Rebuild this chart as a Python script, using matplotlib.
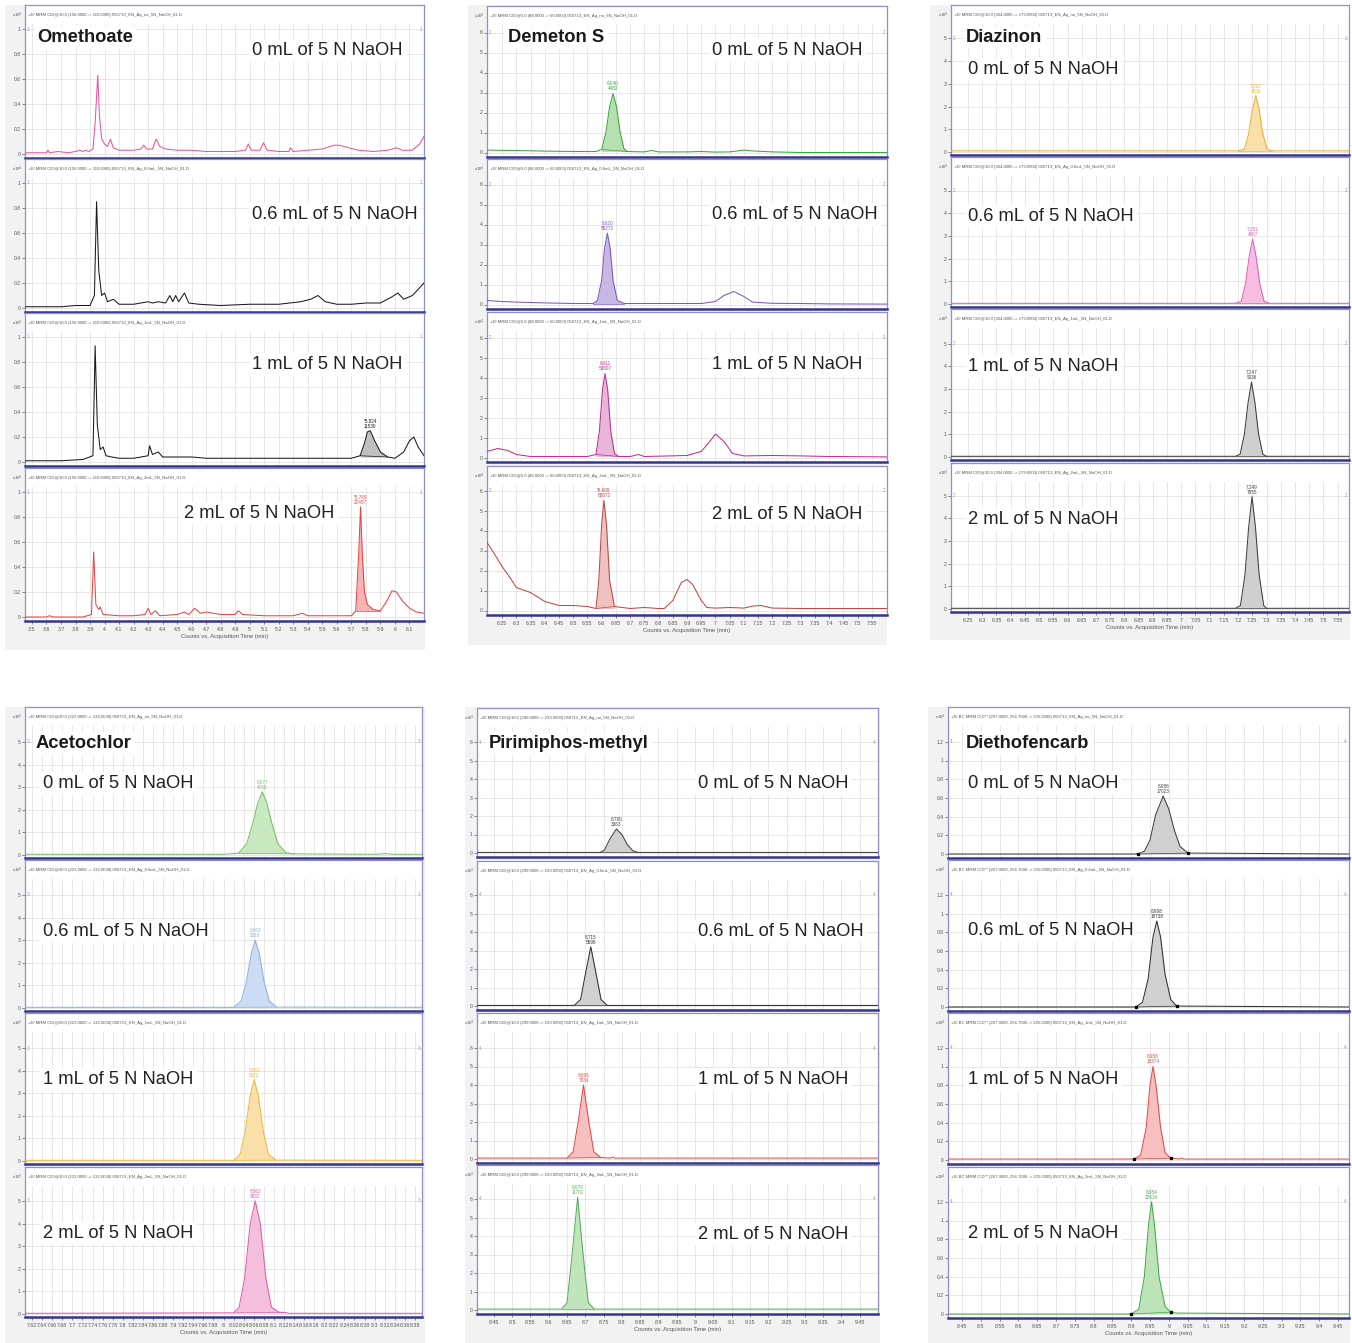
import numpy as np
import matplotlib
matplotlib.use("Agg")
import matplotlib.pyplot as plt
from matplotlib.patches import Rectangle

# ======================= DATA =======================
compounds = ["Omethoate", "Demeton S", "Diazinon", "Acetochlor", "Pirimiphos-methyl", "Diethofencarb"]
naoh_levels = ["0 mL of 5 N NaOH", "0.6 mL of 5 N NaOH", "1 mL of 5 N NaOH", "2 mL of 5 N NaOH"]
file_tags = ["no", "0.6mL", "1mL", "2mL"]
transitions = ["+EI MRM CID@10.0 (156.0000 -> 110.0000)",
               "+EI MRM CID@5.0 (88.0000 -> 60.0000)",
               "+EI MRM CID@10.0 (304.0000 -> 179.0000)",
               "+EI MRM CID@20.0 (223.0000 -> 132.0000)",
               "+EI MRM CID@10.0 (290.0000 -> 233.0000)",
               "+EI BC MRM CID** (267.0000, 256.7000 -> 225.0000)"]
scale_exp = ["4", "4", "3", "3", "3", "4"]
segment_ids = ["1", "2", "2", "3", "4", "4"]

# ---- x tick labels (min) ----
ome_xticks = ["3.5", "3.6", "3.7", "3.8", "3.9", "4", "4.1", "4.2", "4.3", "4.4", "4.5", "4.6", "4.7",
              "4.8", "4.9", "5", "5.1", "5.2", "5.3", "5.4", "5.5", "5.6", "5.7", "5.8", "5.9", "6", "6.1"]
dem_xticks = ["6.25", "6.3", "6.35", "6.4", "6.45", "6.5", "6.55", "6.6", "6.65", "6.7", "6.75", "6.8",
              "6.85", "6.9", "6.95", "7", "7.05", "7.1", "7.15", "7.2", "7.25", "7.3", "7.35", "7.4",
              "7.45", "7.5", "7.55"]
dia_xticks = dem_xticks
ace_xticks = ["7.62", "7.64", "7.66", "7.68", "7.7", "7.72", "7.74", "7.76", "7.78", "7.8", "7.82", "7.84",
              "7.86", "7.88", "7.9", "7.92", "7.94", "7.96", "7.98", "8", "8.02", "8.04", "8.06", "8.08",
              "8.1", "8.12", "8.14", "8.16", "8.18", "8.2", "8.22", "8.24", "8.26", "8.28", "8.3", "8.32",
              "8.34", "8.36", "8.38"]
pir_xticks = ["8.45", "8.5", "8.55", "8.6", "8.65", "8.7", "8.75", "8.8", "8.85", "8.9", "8.95", "9",
              "9.05", "9.1", "9.15", "9.2", "9.25", "9.3", "9.35", "9.4", "9.45"]
dfc_xticks = pir_xticks

# ---- y tick labels ----
ome_yticks = ["0", "0.2", "0.4", "0.6", "0.8", "1"]
dem_yticks = ["0", "1", "2", "3", "4", "5", "6"]
dia_yticks = ["0", "1", "2", "3", "4", "5"]
ace_yticks = ["0", "1", "2", "3", "4", "5"]
pir_yticks = ["0", "1", "2", "3", "4", "5", "6"]
dfc_yticks = ["0", "0.2", "0.4", "0.6", "0.8", "1", "1.2"]

# ---- Omethoate (x10^4 counts) ----
ome_t0 = [3.45, 3.55, 3.60, 3.61, 3.62, 3.68, 3.75, 3.80, 3.83, 3.85, 3.87, 3.89, 3.92, 3.935, 3.953, 3.965,
          3.98, 4.00, 4.02, 4.04, 4.06, 4.10, 4.20, 4.25, 4.27, 4.29, 4.33, 4.355, 4.38, 4.42, 4.50, 4.60,
          4.70, 4.80, 4.90, 4.97, 4.99, 5.01, 5.07, 5.095, 5.12, 5.20, 5.27, 5.28, 5.30, 5.40, 5.50, 5.58,
          5.62, 5.68, 5.75, 5.85, 5.95, 6.01, 6.05, 6.12, 6.17, 6.20]
ome_y0 = [0.01, 0.01, 0.01, 0.03, 0.01, 0.02, 0.01, 0.02, 0.03, 0.02, 0.03, 0.02, 0.04, 0.25, 0.63, 0.30,
          0.12, 0.08, 0.06, 0.12, 0.05, 0.03, 0.03, 0.04, 0.07, 0.04, 0.04, 0.12, 0.06, 0.04, 0.03, 0.03,
          0.02, 0.02, 0.02, 0.03, 0.08, 0.03, 0.03, 0.09, 0.03, 0.02, 0.02, 0.05, 0.02, 0.03, 0.04, 0.07,
          0.07, 0.05, 0.03, 0.02, 0.03, 0.05, 0.03, 0.03, 0.08, 0.14]
ome_t1 = [3.45, 3.60, 3.70, 3.80, 3.90, 3.93, 3.945, 3.96, 3.98, 4.00, 4.02, 4.06, 4.10, 4.20, 4.30, 4.33,
          4.37, 4.42, 4.45, 4.47, 4.49, 4.51, 4.55, 4.58, 4.65, 4.80, 5.00, 5.20, 5.35, 5.42, 5.47, 5.52,
          5.60, 5.70, 5.80, 5.90, 5.98, 6.02, 6.06, 6.12, 6.20]
ome_y1 = [0.01, 0.01, 0.01, 0.02, 0.02, 0.10, 0.85, 0.30, 0.10, 0.12, 0.05, 0.07, 0.03, 0.03, 0.05, 0.04,
          0.05, 0.04, 0.10, 0.05, 0.10, 0.05, 0.12, 0.04, 0.03, 0.02, 0.03, 0.03, 0.05, 0.07, 0.10, 0.05,
          0.03, 0.03, 0.04, 0.04, 0.09, 0.12, 0.07, 0.10, 0.20]
ome_t2 = [3.45, 3.70, 3.85, 3.92, 3.935, 3.95, 3.97, 3.99, 4.01, 4.05, 4.10, 4.20, 4.30, 4.31, 4.33, 4.37,
          4.40, 4.50, 4.60, 4.70, 4.90, 5.10, 5.30, 5.50, 5.70, 5.76, 5.79, 5.81, 5.83, 5.86, 5.90, 5.95,
          6.00, 6.06, 6.10, 6.13, 6.16, 6.20]
ome_y2 = [0.01, 0.01, 0.02, 0.05, 0.93, 0.30, 0.10, 0.12, 0.05, 0.04, 0.03, 0.03, 0.05, 0.13, 0.06, 0.08,
          0.04, 0.04, 0.04, 0.03, 0.03, 0.03, 0.03, 0.03, 0.03, 0.05, 0.15, 0.24, 0.25, 0.17, 0.08, 0.04,
          0.03, 0.08, 0.17, 0.20, 0.12, 0.05]
ome_t3 = [3.45, 3.60, 3.62, 3.65, 3.85, 3.91, 3.925, 3.94, 3.96, 3.97, 3.99, 4.10, 4.20, 4.28, 4.30, 4.32,
          4.35, 4.38, 4.50, 4.55, 4.58, 4.62, 4.66, 4.70, 4.80, 4.90, 4.92, 4.95, 5.10, 5.30, 5.36, 5.40,
          5.50, 5.60, 5.70, 5.73, 5.75, 5.763, 5.775, 5.79, 5.81, 5.85, 5.90, 5.94, 5.98, 6.01, 6.05, 6.10,
          6.15, 6.20]
ome_y3 = [0.00, 0.00, 0.01, 0.00, 0.00, 0.02, 0.52, 0.10, 0.06, 0.08, 0.02, 0.01, 0.01, 0.02, 0.07, 0.02,
          0.05, 0.01, 0.02, 0.04, 0.02, 0.07, 0.03, 0.04, 0.02, 0.02, 0.05, 0.02, 0.01, 0.01, 0.03, 0.01,
          0.01, 0.01, 0.01, 0.05, 0.50, 0.88, 0.50, 0.20, 0.10, 0.06, 0.05, 0.12, 0.21, 0.20, 0.13, 0.07,
          0.04, 0.03]
ome_fill = [None, None, (5.76, 5.95), (5.73, 5.90)]
ome_peaks = [None, None, ("*5.824", "11530"), ("*5.769", "22457")]

# ---- Demeton S (x10^4 counts) ----
dem_t0 = [6.197, 6.30, 6.40, 6.50, 6.58, 6.60, 6.615, 6.628, 6.640, 6.652, 6.665, 6.678, 6.69, 6.75,
          6.775, 6.80, 6.90, 6.95, 7.00, 7.05, 7.10, 7.13, 7.20, 7.30, 7.603]
dem_y0 = [0.12, 0.10, 0.07, 0.05, 0.05, 0.15, 1.0, 2.3, 2.95, 2.3, 1.0, 0.2, 0.05, 0.03,
          0.10, 0.03, 0.03, 0.05, 0.02, 0.03, 0.12, 0.08, 0.03, 0.00, 0.00]
dem_t1 = [6.197, 6.25, 6.30, 6.40, 6.50, 6.57, 6.585, 6.600, 6.610, 6.620, 6.630, 6.640, 6.655, 6.68,
          6.80, 6.95, 7.00, 7.03, 7.065, 7.10, 7.13, 7.20, 7.30, 7.40, 7.603]
dem_y1 = [0.20, 0.15, 0.12, 0.08, 0.05, 0.05, 0.20, 1.2, 2.8, 3.57, 2.8, 1.2, 0.20, 0.05,
          0.05, 0.05, 0.15, 0.45, 0.65, 0.40, 0.12, 0.06, 0.05, 0.03, 0.02]
dem_t2 = [6.197, 6.235, 6.27, 6.30, 6.35, 6.45, 6.55, 6.58, 6.592, 6.603, 6.612, 6.621, 6.632, 6.645,
          6.66, 6.70, 6.73, 6.75, 6.90, 6.95, 6.98, 7.00, 7.03, 7.06, 7.10, 7.20, 7.30, 7.40, 7.603]
dem_y2 = [0.30, 0.45, 0.35, 0.15, 0.05, 0.05, 0.05, 0.15, 1.3, 3.4, 4.2, 3.4, 1.3, 0.2,
          0.05, 0.05, 0.15, 0.05, 0.10, 0.30, 0.80, 1.17, 0.80, 0.20, 0.08, 0.10, 0.08, 0.05, 0.03]
dem_t3 = [6.197, 6.22, 6.25, 6.28, 6.30, 6.35, 6.40, 6.45, 6.50, 6.55, 6.58, 6.590, 6.600, 6.608,
          6.617, 6.628, 6.645, 6.70, 6.75, 6.80, 6.82, 6.85, 6.88, 6.90, 6.92, 6.95, 6.97, 7.00, 7.05,
          7.10, 7.13, 7.16, 7.20, 7.30, 7.603]
dem_y3 = [3.40, 2.90, 2.20, 1.60, 1.15, 0.90, 0.45, 0.25, 0.25, 0.20, 0.10, 1.5, 4.3, 5.5,
          4.3, 1.5, 0.20, 0.10, 0.15, 0.10, 0.10, 0.50, 1.40, 1.55, 1.30, 0.50, 0.15, 0.12, 0.15,
          0.12, 0.22, 0.25, 0.12, 0.10, 0.10]
dem_fill = [(6.60, 6.69), (6.57, 6.68), (6.58, 6.66), (6.58, 6.645)]
dem_peaks = [("6.640", "4482"), ("6.620", "55272"), ("6.611", "53807"), ("*6.609", "85872")]

# ---- Diazinon (x10^3 counts) ----
dia_t0 = [6.19, 7.20, 7.222, 7.237, 7.250, 7.262, 7.274, 7.287, 7.302, 7.32, 7.59]
dia_y0 = [0.05, 0.05, 0.12, 0.80, 1.85, 2.48, 1.85, 0.80, 0.12, 0.05, 0.05]
dia_t1 = [6.19, 7.19, 7.211, 7.226, 7.239, 7.251, 7.263, 7.276, 7.291, 7.31, 7.59]
dia_y1 = [0.03, 0.03, 0.12, 0.90, 2.10, 2.86, 2.10, 0.90, 0.12, 0.03, 0.03]
dia_t2 = [6.19, 7.19, 7.207, 7.222, 7.235, 7.247, 7.259, 7.272, 7.287, 7.30, 7.59]
dia_y2 = [0.03, 0.03, 0.12, 1.00, 2.40, 3.30, 2.40, 1.00, 0.12, 0.03, 0.03]
dia_t3 = [6.19, 7.19, 7.208, 7.224, 7.237, 7.249, 7.261, 7.274, 7.290, 7.30, 7.59]
dia_y3 = [0.03, 0.03, 0.15, 1.50, 3.60, 4.95, 3.60, 1.50, 0.15, 0.03, 0.03]
dia_fill = [(7.20, 7.32), (7.19, 7.31), (7.19, 7.30), (7.19, 7.30)]
dia_peaks = [("7.262", "3930"), ("7.251", "4907"), ("7.247", "5036"), ("7.249", "7955")]

# ---- Acetochlor (x10^3 counts) ----
ace_t0 = [7.606, 8.00, 8.030, 8.046, 8.058, 8.068, 8.077, 8.086, 8.096, 8.108, 8.124, 8.14, 8.30, 8.32,
          8.34, 8.394]
ace_y0 = [0.03, 0.03, 0.08, 0.50, 1.40, 2.30, 2.80, 2.30, 1.40, 0.50, 0.10, 0.05, 0.03, 0.06,
          0.03, 0.03]
ace_t1 = [7.606, 8.02, 8.035, 8.045, 8.055, 8.063, 8.071, 8.081, 8.091, 8.105, 8.394]
ace_y1 = [0.03, 0.03, 0.30, 1.10, 2.40, 3.00, 2.40, 1.10, 0.30, 0.04, 0.03]
ace_t2 = [7.606, 8.02, 8.033, 8.043, 8.053, 8.061, 8.069, 8.079, 8.089, 8.104, 8.394]
ace_y2 = [0.03, 0.03, 0.30, 1.30, 2.90, 3.60, 2.90, 1.30, 0.30, 0.04, 0.03]
ace_t3 = [7.606, 8.02, 8.031, 8.042, 8.053, 8.063, 8.073, 8.084, 8.095, 8.11, 8.122, 8.13, 8.394]
ace_y3 = [0.03, 0.05, 0.30, 1.60, 4.00, 5.00, 4.00, 1.60, 0.30, 0.08, 0.07, 0.03, 0.03]
ace_fill = [(8.030, 8.14), (8.02, 8.105), (8.02, 8.104), (8.02, 8.122)]
ace_peaks = [("8.077", "4768"), ("8.063", "5310"), ("8.061", "6322"), ("8.063", "9832")]

# ---- Pirimiphos-methyl (x10^3 counts) ----
pir_t0 = [8.404, 8.74, 8.752, 8.767, 8.785, 8.800, 8.815, 8.830, 8.845, 9.50]
pir_y0 = [0.03, 0.03, 0.15, 0.75, 1.30, 1.00, 0.45, 0.12, 0.03, 0.03]
pir_t1 = [8.404, 8.67, 8.687, 8.702, 8.715, 8.728, 8.743, 8.76, 9.50]
pir_y1 = [0.03, 0.03, 0.35, 1.90, 3.20, 1.90, 0.35, 0.03, 0.03]
pir_t2 = [8.404, 8.65, 8.667, 8.682, 8.695, 8.708, 8.723, 8.742, 8.77, 8.775, 8.78, 9.50]
pir_y2 = [0.05, 0.05, 0.40, 2.20, 4.00, 2.20, 0.40, 0.08, 0.05, 0.10, 0.05, 0.05]
pir_t3 = [8.404, 8.635, 8.650, 8.664, 8.679, 8.694, 8.708, 8.725, 9.50]
pir_y3 = [0.05, 0.05, 0.40, 3.00, 6.10, 3.00, 0.40, 0.05, 0.05]
pir_fill = [(8.74, 8.845), (8.67, 8.76), (8.65, 8.742), (8.635, 8.725)]
pir_peaks = [("8.780", "3363"), ("8.715", "5598"), ("8.695", "7034"), ("8.679", "11701")]

# ---- Diethofencarb (x10^4 counts) ----
dfc_t0 = [8.413, 8.918, 8.935, 8.950, 8.965, 8.985, 9.000, 9.015, 9.030, 9.051, 9.479]
dfc_y0 = [0.00, 0.00, 0.03, 0.15, 0.42, 0.62, 0.48, 0.25, 0.08, 0.01, 0.00]
dfc_t1 = [8.413, 8.912, 8.930, 8.945, 8.958, 8.968, 8.978, 8.990, 9.005, 9.021, 9.479]
dfc_y1 = [0.00, 0.00, 0.05, 0.30, 0.75, 0.92, 0.75, 0.35, 0.08, 0.01, 0.00]
dfc_t2 = [8.413, 8.907, 8.925, 8.940, 8.950, 8.958, 8.966, 8.978, 8.990, 9.005, 9.030, 9.035, 9.040, 9.479]
dfc_y2 = [0.01, 0.01, 0.05, 0.35, 0.80, 1.00, 0.80, 0.35, 0.08, 0.02, 0.01, 0.02, 0.01, 0.01]
dfc_t3 = [8.413, 8.900, 8.920, 8.935, 8.946, 8.954, 8.962, 8.974, 8.990, 9.005, 9.020, 9.479]
dfc_y3 = [0.00, 0.00, 0.05, 0.40, 0.95, 1.20, 0.95, 0.40, 0.08, 0.02, 0.01, 0.00]
dfc_fill = [(8.918, 9.051), (8.912, 9.021), (8.907, 9.005), (8.900, 9.005)]
dfc_peaks = [("8.986", "17023"), ("8.968", "18738"), ("8.958", "18374"), ("8.954", "22614")]

panel_traces = [
    [(ome_t0, ome_y0), (ome_t1, ome_y1), (ome_t2, ome_y2), (ome_t3, ome_y3)],
    [(dem_t0, dem_y0), (dem_t1, dem_y1), (dem_t2, dem_y2), (dem_t3, dem_y3)],
    [(dia_t0, dia_y0), (dia_t1, dia_y1), (dia_t2, dia_y2), (dia_t3, dia_y3)],
    [(ace_t0, ace_y0), (ace_t1, ace_y1), (ace_t2, ace_y2), (ace_t3, ace_y3)],
    [(pir_t0, pir_y0), (pir_t1, pir_y1), (pir_t2, pir_y2), (pir_t3, pir_y3)],
    [(dfc_t0, dfc_y0), (dfc_t1, dfc_y1), (dfc_t2, dfc_y2), (dfc_t3, dfc_y3)],
]
panel_fills = [ome_fill, dem_fill, dia_fill, ace_fill, pir_fill, dfc_fill]
panel_peaks = [ome_peaks, dem_peaks, dia_peaks, ace_peaks, pir_peaks, dfc_peaks]
panel_xticks = [ome_xticks, dem_xticks, dia_xticks, ace_xticks, pir_xticks, dfc_xticks]
panel_yticks = [ome_yticks, dem_yticks, dia_yticks, ace_yticks, pir_yticks, dfc_yticks]

# ======================= STYLE / LAYOUT =======================
line_colors = [
    ["#e8559a", "#1a1a1a", "#1a1a1a", "#e84545"],
    ["#3aa83a", "#7b5ab8", "#c0308e", "#c04848"],
    ["#f0b030", "#e060b8", "#404040", "#404040"],
    ["#78c068", "#8cb0e0", "#f0b840", "#e060a8"],
    ["#404040", "#303030", "#e84848", "#58b058"],
    ["#404040", "#303030", "#e84848", "#48a848"],
]
fill_colors = [
    ["#f5b8d5", "#c8c8c8", "#c0c0c0", "#f6b4b4"],
    ["#b6e0b0", "#c6b8e4", "#e8b6d8", "#eec0c0"],
    ["#f8e0a8", "#f5bde0", "#cfcfcf", "#cfcfcf"],
    ["#c8e8c0", "#cbdcf4", "#f9e0a8", "#f4bedd"],
    ["#d0d0d0", "#d0d0d0", "#f6c0c0", "#c0e4bc"],
    ["#d0d0d0", "#d0d0d0", "#f6c0c0", "#bce4b8"],
]
layouts = [
    dict(bg=(5, 5, 425, 650), xpx=(25, 424), frames=[(5, 158), (159, 312), (313, 466), (468, 621)],
         unit=125.0, off=4.0, xlim=(3.452, 6.200), name_xy=(37, 42),
         lab_x=[252, 252, 252, 184], lab_y=[55, 219, 369, 518]),
    dict(bg=(468, 5, 887, 645), xpx=(487, 887), frames=[(6, 157), (159, 309), (312, 462), (466, 615)],
         unit=20.0, off=4.5, xlim=(6.197, 7.603), name_xy=(508, 42),
         lab_x=[712] * 4, lab_y=[55, 219, 369, 519]),
    dict(bg=(930, 5, 1350, 640), xpx=(951, 1349), frames=[(5, 155), (157, 307), (309, 460), (463, 612)],
         unit=22.7, off=3.0, xlim=(6.19, 7.59), name_xy=(966, 42),
         lab_x=[968] * 4, lab_y=[74, 221, 371, 524]),
    dict(bg=(5, 707, 425, 1343), xpx=(25, 422), frames=[(707, 858), (860, 1011), (1013, 1164), (1167, 1317)],
         unit=22.6, off=3.0, xlim=(7.606, 8.394), name_xy=(36, 748),
         lab_x=[43] * 4, lab_y=[788, 936, 1084, 1238]),
    dict(bg=(465, 707, 880, 1343), xpx=(477, 878), frames=[(708, 857), (861, 1010), (1013, 1163), (1165, 1314)],
         unit=18.5, off=4.0, xlim=(8.404, 9.500), name_xy=(489, 748),
         lab_x=[698] * 4, lab_y=[788, 936, 1084, 1239]),
    dict(bg=(928, 707, 1350, 1343), xpx=(948, 1349), frames=[(707, 858), (860, 1011), (1013, 1164), (1167, 1318)],
         unit=93.5, off=4.0, xlim=(8.413, 9.479), name_xy=(966, 748),
         lab_x=[968] * 4, lab_y=[788, 935, 1084, 1238]),
]

W, H = 1352, 1343
FONT = ["Liberation Sans", "DejaVu Sans"]
plt.rcParams["font.family"] = FONT

fig = plt.figure(figsize=(W / 100, H / 100), dpi=100)
fig.patch.set_facecolor("white")


def fx(px):
    return px / W


def fy(py):
    return 1 - py / H


HEADER = 19  # px of header band inside each frame

for p in range(6):
    L = layouts[p]
    x0, x1 = L["xpx"]
    Wf = x1 - x0
    bx0, by0, bx1, by1 = L["bg"]
    fig.add_artist(Rectangle((fx(bx0), fy(by1)), (bx1 - bx0) / W, (by1 - by0) / H,
                             transform=fig.transFigure, facecolor="#f2f2f2", edgecolor="none", zorder=-5))
    xt_vals = [float(s) for s in panel_xticks[p]]
    yt_vals = [float(s) for s in panel_yticks[p]]
    for k in range(4):
        top, bot = L["frames"][k]
        Hf = bot - top
        ax = fig.add_axes([fx(x0), fy(bot), Wf / W, Hf / H])
        ax.set_facecolor("white")
        ax.set_xlim(*L["xlim"])
        ax.set_ylim(-L["off"] / L["unit"], (Hf - L["off"]) / L["unit"])
        ax.set_axisbelow(True)
        ax.set_xticks(xt_vals)
        ax.set_yticks(yt_vals)
        ax.set_yticklabels(panel_yticks[p])
        ax.grid(True, color="#e3e3e3", lw=0.6)
        ax.tick_params(axis="y", length=2, width=0.5, pad=1, labelsize=3.6, colors="#555555")
        if k == 3:
            ax.set_xticklabels(panel_xticks[p])
            ax.tick_params(axis="x", length=2.5, width=0.5, pad=1.5, labelsize=3.8, colors="#555555")
            ax.set_xlabel("Counts vs. Acquisition Time (min)", fontsize=4.2, labelpad=2, color="#555555")
        else:
            ax.tick_params(axis="x", bottom=False, labelbottom=False)
        for s in ["top", "left", "right"]:
            ax.spines[s].set_color("#8e8ed0")
            ax.spines[s].set_linewidth(0.9)
        ax.spines["bottom"].set_color("#35358c")
        ax.spines["bottom"].set_linewidth(1.8)
        # header band (no grid)
        ax.add_patch(Rectangle((0, 1 - HEADER / Hf), 1, HEADER / Hf, transform=ax.transAxes,
                               facecolor="white", edgecolor="none", zorder=1))
        ax.text(3 / Wf, 1 - 10 / Hf, transitions[p] + " 050713_EN_Ag_" + file_tags[k] + "_5N_NaOH_01.D",
                transform=ax.transAxes, fontsize=3.1, color="#555555", va="center", ha="left", zorder=3)
        ax.text(-13 / Wf, 1 - 10 / Hf, r"x10$^{%s}$" % scale_exp[p], transform=ax.transAxes,
                fontsize=3.1, color="#555555", va="center", ha="left", zorder=3, clip_on=False)
        ytop = yt_vals[-1]
        ax.text(2 / Wf, ytop, segment_ids[p], transform=ax.get_yaxis_transform(), fontsize=3.3,
                color="#999999", va="center", ha="left", zorder=3)
        ax.text(1 - 2 / Wf, ytop, segment_ids[p], transform=ax.get_yaxis_transform(), fontsize=3.3,
                color="#999999", va="center", ha="right", zorder=3)

        t = np.array(panel_traces[p][k][0])
        y = np.array(panel_traces[p][k][1])
        col = line_colors[p][k]
        fr = panel_fills[p][k]
        if fr is not None:
            m = (t >= fr[0] - 1e-9) & (t <= fr[1] + 1e-9)
            tm, ym = t[m], y[m]
            base = min(ym[0], ym[-1])
            ax.fill_between(tm, ym, base, color=fill_colors[p][k], lw=0, zorder=2)
            ax.plot([tm[0], tm[-1]], [ym[0], ym[-1]], color=col, lw=0.5, zorder=2.5)
            if p == 5:
                ax.plot([tm[0], tm[-1]], [ym[0], ym[-1]], "s", color="black", ms=2.0, zorder=4)
            pk = panel_peaks[p][k]
            if pk is not None:
                j = int(np.argmax(ym))
                ax.annotate(pk[0] + "\n" + pk[1], xy=(tm[j], ym[j]), xytext=(0, 1.5),
                            textcoords="offset points", ha="center", va="bottom", fontsize=3.3,
                            color=col, linespacing=1.0, zorder=4)
        ax.plot(t, y, color=col, lw=0.75, zorder=3)

        # condition label
        fig.text(fx(L["lab_x"][k]), fy(L["lab_y"][k]), naoh_levels[k], fontsize=13.2, color="#222222",
                 ha="left", va="baseline", zorder=10,
                 bbox=dict(facecolor="white", edgecolor="none", pad=2.5))
    # compound name
    fig.text(fx(L["name_xy"][0]), fy(L["name_xy"][1]), compounds[p], fontsize=13.2, fontweight="bold",
             color="#1a1a1a", ha="left", va="baseline", zorder=11,
             bbox=dict(facecolor="white", edgecolor="none", pad=2.5))

fig.savefig("out.png", dpi=100, facecolor="white")
